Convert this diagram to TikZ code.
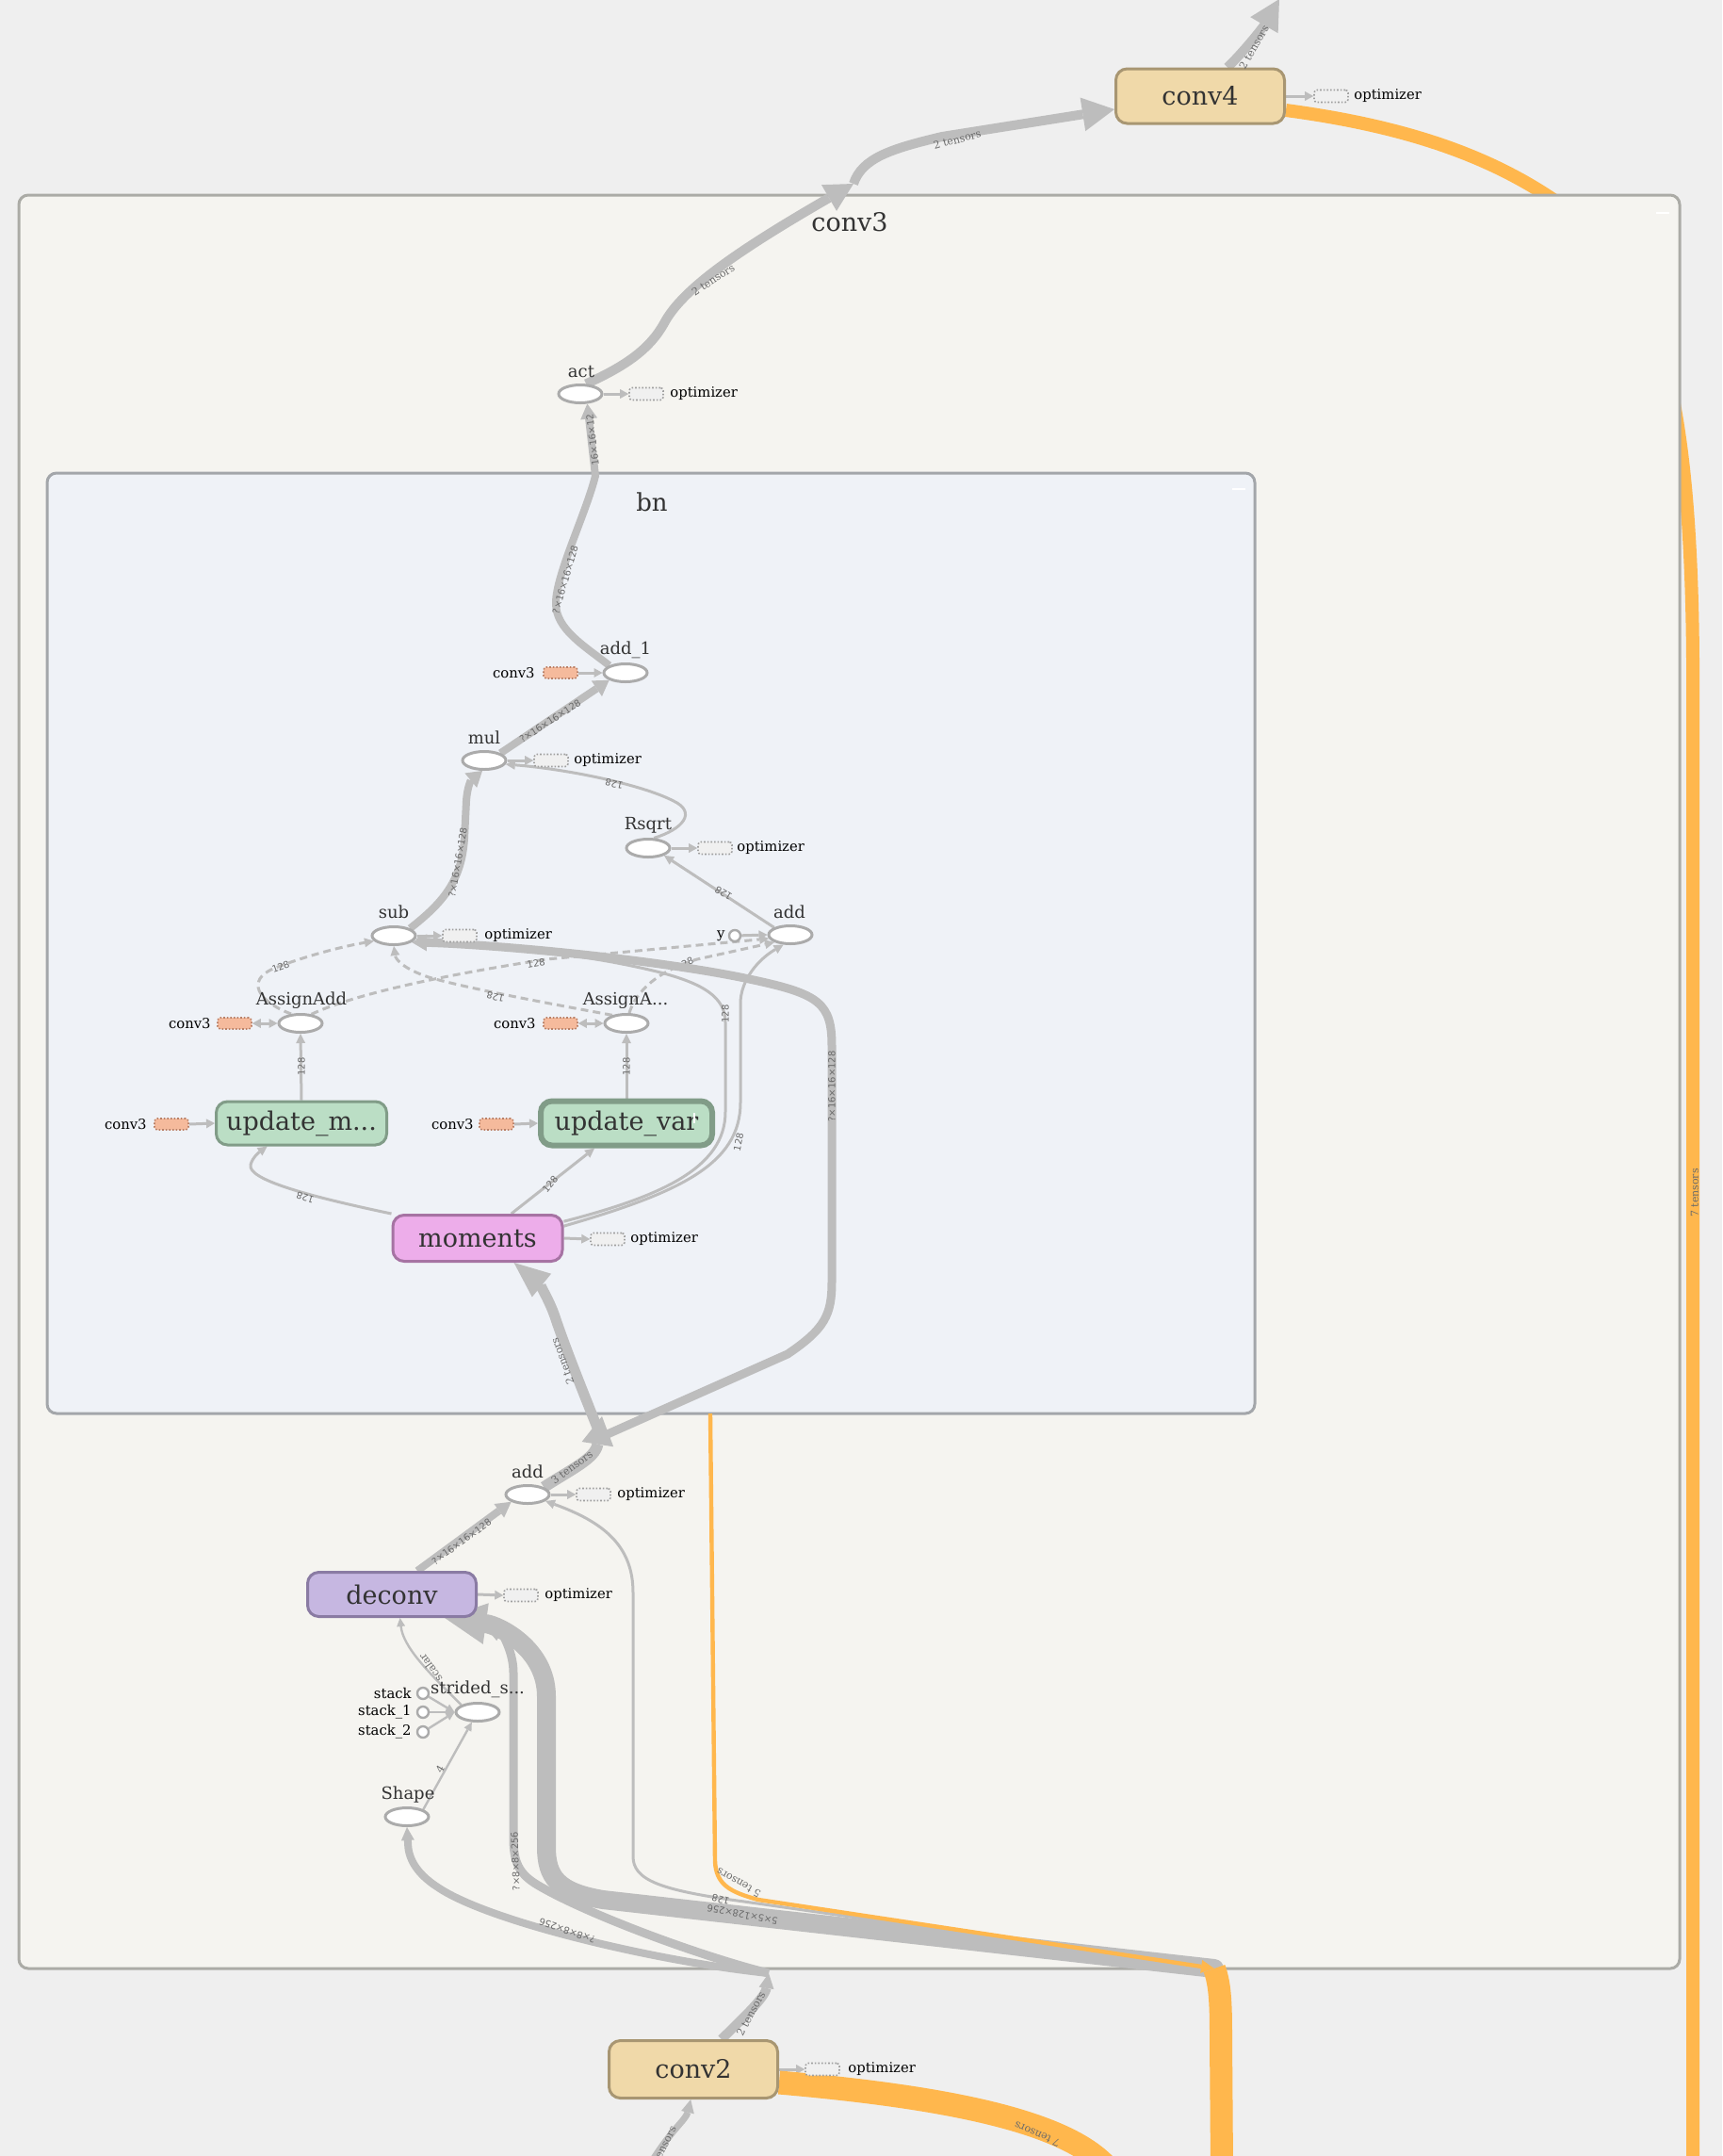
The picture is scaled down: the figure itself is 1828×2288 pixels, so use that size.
\documentclass[tikz,border=0pt]{standalone}
\usepackage{fontspec}
\setmainfont{DejaVu Serif}
\newfontfamily\lblsans{DejaVu Sans}
\usetikzlibrary{arrows.meta,shapes.geometric,calc}
\definecolor{bgc}{HTML}{EFEFEF}
\definecolor{scopec}{HTML}{F5F4F0}
\definecolor{scopeb}{HTML}{ABABA6}
\definecolor{bnc}{HTML}{EFF2F7}
\definecolor{bnb}{HTML}{A3A6AA}
\definecolor{edgec}{HTML}{BDBDBD}
\definecolor{orng}{HTML}{FFB74D}
\definecolor{convc}{HTML}{F0D9A9}
\definecolor{convb}{HTML}{A89672}
\definecolor{updc}{HTML}{BBDEC5}
\definecolor{updb}{HTML}{819C88}
\definecolor{momc}{HTML}{EDADEA}
\definecolor{momb}{HTML}{A673A3}
\definecolor{decc}{HTML}{C6B7E1}
\definecolor{decb}{HTML}{8A7BA3}
\definecolor{salc}{HTML}{F5BA9C}
\definecolor{salb}{HTML}{B98067}
\definecolor{optc}{HTML}{F0F0F0}
\definecolor{optb}{HTML}{A0A0A0}
\definecolor{opb}{HTML}{ABABAB}
\definecolor{txtc}{HTML}{333333}
\definecolor{elbl}{HTML}{6A6A6A}
\pgfdeclarelayer{bgl}
\pgfdeclarelayer{scl}
\pgfdeclarelayer{edl}
\pgfsetlayers{bgl,scl,edl,main}
\begin{document}
\begin{tikzpicture}[x=0.5pt,y=-0.5pt,
  opn/.style={ellipse,draw=opb,fill=white,line width=1.5pt,minimum width=23pt,minimum height=9.5pt,inner sep=0pt},
  metan/.style={rectangle,rounded corners=6pt,line width=1.5pt,text=txtc,font=\fontsize{13.5}{15}\selectfont,inner sep=0pt},
  optbox/.style={rectangle,rounded corners=1.5pt,draw=optb,fill=optc,densely dotted,line width=0.8pt,minimum width=18pt,minimum height=6.5pt,inner sep=0pt},
  salbox/.style={rectangle,rounded corners=1.5pt,draw=salb,fill=salc,densely dotted,line width=0.8pt,minimum width=18pt,minimum height=6pt,inner sep=0pt},
  oplbl/.style={font=\fontsize{9}{10}\selectfont,text=txtc,inner sep=0pt},
  sidel/.style={font=\fontsize{7.4}{8}\selectfont,inner sep=0pt,text=black},
  scttl/.style={font=\fontsize{13.5}{15}\selectfont,text=txtc,inner sep=0pt},
  elab/.style={font=\lblsans\fontsize{5}{6}\selectfont,text=elbl,inner sep=0pt},
  tlab/.style={font=\fontsize{5.5}{6}\selectfont,text=elbl,inner sep=0pt},
  ge/.style={draw=edgec,line width=#1},
  ah/.style 2 args={arrows={-Triangle[length=#1,width=#2,line width=0pt]}},
  ahb/.style={arrows={Triangle[length=4.5pt,width=5pt,line width=0pt]-Triangle[length=4.5pt,width=5pt,line width=0pt]}},
  dsh/.style={dash pattern=on 4pt off 2.5pt},
  stub/.style={circle,draw=opb,fill=white,line width=1.2pt,minimum size=6pt,inner sep=0pt},
]
\useasboundingbox (0,0) rectangle (1828,2288);
% ---------- nodes ----------
\node[metan,fill=convc,draw=convb,minimum width=89.5pt,minimum height=29pt] (conv4) at (1274,102) {conv4};
\node[optbox] (opt4) at (1413,102) {};
\node[sidel,anchor=west] (opt4t) at (1437,102) {optimizer};

\node[scttl] (t3) at (902,236) {conv3};
\node[scttl,font=\fontsize{13}{14}\selectfont] (tbn) at (692,533) {bn};

\node[opn] (act) at (616,418) {};
\node[oplbl] (actl) at (617,394) {act};
\node[optbox] (opta) at (686,418) {};
\node[sidel,anchor=west] (optat) at (711,418) {optimizer};

\node[opn] (add1) at (664,714) {};
\node[oplbl] (add1l) at (664,690) {add\_1};
\node[salbox] (s1) at (595,714) {};
\node[sidel,anchor=east] (s1t) at (568,714) {conv3};

\node[opn] (mul) at (514,807) {};
\node[oplbl] (mull) at (514,783) {mul};
\node[optbox] (optm) at (585,807) {};
\node[sidel,anchor=west] (optmt) at (609,807) {optimizer};

\node[opn] (rsq) at (688,900) {};
\node[oplbl] (rsql) at (688,876) {Rsqrt};
\node[optbox] (optr) at (759,900) {};
\node[sidel,anchor=west] (optrt) at (782,900) {optimizer};

\node[opn] (sub) at (418,993) {};
\node[oplbl] (subl) at (418,968) {sub};
\node[optbox] (opts) at (488,993) {};
\node[sidel,anchor=west] (optst) at (514,993) {optimizer};

\node[opn] (addb) at (839,992) {};
\node[oplbl] (addbl) at (838,968) {add};
\node[stub] (ys) at (780,993) {};
\node[sidel,anchor=east] (yst) at (770,993) {y};

\node[opn] (asa) at (319,1086) {};
\node[oplbl] (asal) at (320,1062) {AssignAdd};
\node[salbox] (s2) at (249,1086) {};
\node[sidel,anchor=east] (s2t) at (224,1086) {conv3};

\node[opn] (asb) at (665,1086) {};
\node[oplbl] (asbl) at (664,1062) {AssignA...};
\node[salbox] (s3) at (595,1086) {};
\node[sidel,anchor=east] (s3t) at (569,1086) {conv3};

\node[metan,fill=updc,draw=updb,minimum width=90.5pt,minimum height=23pt] (updm) at (320,1192) {update\_m...};
\node[salbox] (s4) at (182,1193) {};
\node[sidel,anchor=east] (s4t) at (156,1193) {conv3};

\node[metan,fill=updc,draw=updb,line width=3pt,minimum width=91pt,minimum height=23.5pt] (updv) at (665,1192) {update\_var};
\node[salbox] (s5) at (527,1193) {};
\node[sidel,anchor=east] (s5t) at (503,1193) {conv3};

\node[metan,fill=momc,draw=momb,minimum width=90pt,minimum height=24.5pt] (mom) at (507,1314) {moments};
\node[optbox] (optmo) at (645,1315) {};
\node[sidel,anchor=west] (optmot) at (669,1315) {optimizer};

\node[opn] (addc) at (560,1586) {};
\node[oplbl] (addcl) at (560,1562) {add};
\node[optbox] (optc) at (630,1586) {};
\node[sidel,anchor=west] (optct) at (655,1586) {optimizer};

\node[metan,fill=decc,draw=decb,minimum width=89.5pt,minimum height=23.5pt] (dec) at (416,1692) {deconv};
\node[optbox] (optd) at (553,1693) {};
\node[sidel,anchor=west] (optdt) at (578,1693) {optimizer};

\node[opn] (strd) at (507,1817) {};
\node[oplbl] (strdl) at (507,1793) {strided\_s...};
\node[stub] (st0) at (449,1797) {};
\node[stub] (st1) at (449,1817) {};
\node[stub] (st2) at (449,1838) {};
\node[sidel,anchor=east] (st0t) at (437,1797) {stack};
\node[sidel,anchor=east] (st1t) at (437,1817) {stack\_1};
\node[sidel,anchor=east] (st2t) at (437,1838) {stack\_2};

\node[opn] (shp) at (432,1928) {};
\node[oplbl] (shpl) at (433,1905) {Shape};

\node[metan,fill=convc,draw=convb,minimum width=89.5pt,minimum height=30.5pt] (conv2) at (736,2196) {conv2};
\node[optbox] (opt2) at (873,2196) {};
\node[sidel,anchor=west] (opt2t) at (900,2196) {optimizer};

\coordinate (b1) at (906,195);
\coordinate (c4top) at (1358,-1);
\coordinate (jn) at (638,1525);
\coordinate (bC) at (639,1503);
\coordinate (bB) at (1289,2089);
\coordinate (bA) at (816,2094);
\coordinate (c2in) at (688,2300);
\coordinate (bnbot) at (754,1500);
\coordinate (orR) at (1797,2300);

% ---------- background ----------
\begin{pgfonlayer}{bgl}
\fill[bgc] (0,0) rectangle (1828,2288);
\draw[orng,line width=7pt] ($(conv4.east)+(0,15)$) .. controls (1500,135) and (1600,170) .. (1680,235) .. controls (1760,300) and (1795,420) .. (1797,700) -- (orR);
\end{pgfonlayer}

\begin{pgfonlayer}{scl}
\draw[scopeb,fill=scopec,line width=1.5pt,rounded corners=5pt] (20,207) rectangle (1783,2089);
\draw[white,line width=1pt] (1758,226) -- (1772,226);
\draw[bnb,fill=bnc,line width=1.5pt,rounded corners=5pt] (50,502) rectangle (1332,1500);
\draw[white,line width=1pt] (1308,519) -- (1322,519);
\end{pgfonlayer}

% ---------- edges ----------
\begin{pgfonlayer}{edl}
% outside top
\draw[ge=5pt,ah={15pt}{16pt}] (act.60) .. controls (665,388) and (690,370) .. (705,343) .. controls (725,305) and (790,262) .. (b1);
\draw[ge=5pt,ah={17pt}{18pt}] (b1) .. controls (915,168) and (945,158) .. (1000,145) -- ($(conv4.west)+(0,14)$);
\draw[ge=5pt,ah={16pt}{17pt}] ($(conv4.north)+(29,0)$) .. controls (1320,55) and (1340,30) .. (c4top);
% side arrows
\draw[ge=1.5pt,ah={4.5pt}{5pt}] (conv4.east) -- (opt4.west);
\draw[ge=1.5pt,ah={4.5pt}{5pt}] (act) -- (opta.west);
\draw[ge=1.5pt,ah={4.5pt}{5pt}] (mul) -- (optm.west);
\draw[ge=1.5pt,ah={4.5pt}{5pt}] (rsq) -- (optr.west);
\draw[ge=1.5pt,ah={4.5pt}{5pt}] (sub) -- (opts.west);
\draw[ge=1.5pt,ah={4.5pt}{5pt}] (mom.east) -- (optmo.west);
\draw[ge=1.5pt,ah={4.5pt}{5pt}] (addc) -- (optc.west);
\draw[ge=1.5pt,ah={4.5pt}{5pt}] (dec.east) -- (optd.west);
\draw[ge=1.5pt,ah={4.5pt}{5pt}] (conv2.east) -- (opt2.west);
\draw[ge=1.5pt,ah={4.5pt}{5pt}] (s1.east) -- (add1.west);
\draw[ge=1.5pt,ahb] (s2.east) -- (asa.west);
\draw[ge=1.5pt,ahb] (s3.east) -- (asb.west);
\draw[ge=1.5pt,ah={4.5pt}{5pt}] (s4.east) -- (updm.west);
\draw[ge=1.5pt,ah={4.5pt}{5pt}] (s5.east) -- (updv.west);
\draw[ge=1.5pt,ah={4.5pt}{5pt}] (ys) -- (addb.west);
\draw[ge=1.2pt,ah={4.5pt}{4.5pt}] (st0) -- (strd.west);
\draw[ge=1.2pt,ah={4.5pt}{4.5pt}] (st1) -- (strd.west);
\draw[ge=1.2pt,ah={4.5pt}{4.5pt}] (st2) -- (strd.west);
% bn internals
\draw[ge=4pt,ah={8pt}{9pt}] (add1.north west) .. controls (620,685) and (590,668) .. (590,640) .. controls (590,610) and (622,545) .. (632,505) -- (act.-55);
\draw[ge=4pt,ah={8pt}{10pt}] (mul.north east) -- (add1.south west);
\draw[ge=4pt,ah={8pt}{10pt}] (sub.north east) .. controls (470,958) and (490,935) .. (493,890) -- (495,850) .. controls (496,835) and (500,828) .. (mul.-100);
\draw[ge=1.5pt,ah={5pt}{5pt}] (rsq.60) .. controls (725,880) and (740,862) .. (715,850) .. controls (680,832) and (600,816) .. (mul.-10);
\draw[ge=1.5pt,ah={5pt}{5pt}] (addb.north west) -- (rsq.-25);
\draw[ge=1.5pt,dsh,ah={5pt}{5pt}] (asa.135) .. controls (272,1062) and (262,1040) .. (290,1028) .. controls (320,1016) and (360,1005) .. (sub.195);
\draw[ge=1.5pt,dsh,ah={5pt}{5pt}] (asa.40) .. controls (370,1058) and (450,1038) .. (580,1018) -- (addb.190);
\draw[ge=1.5pt,dsh,ah={5pt}{5pt}] (asb.150) .. controls (600,1068) and (500,1050) .. (455,1037) .. controls (428,1028) and (420,1018) .. (sub.south);
\draw[ge=1.5pt,dsh,ah={5pt}{5pt}] (asb.75) .. controls (676,1050) and (700,1030) .. (740,1018) -- (addb.205);
\node[elab,rotate=25] (l128h) at (727,1023) {128};
\draw[ge=1.5pt,ah={5pt}{5pt}] (updm.north) -- (asa.south);
\draw[ge=1.5pt,ah={5pt}{5pt}] (updv.north) -- (asb.south);
\draw[ge=1.5pt,ah={5pt}{5pt}] (mom.north west) .. controls (330,1270) and (262,1252) .. (266,1236) .. controls (268,1228) and (276,1222) .. (updm.214);
\draw[ge=1.5pt,ah={5pt}{5pt}] (mom.36) -- (updv.218);
\draw[ge=1.5pt,ah={5pt}{5pt}] (mom.11) .. controls (700,1270) and (770,1240) .. (770,1180) -- (770,1085) .. controls (770,1050) and (730,1036) .. (650,1021) .. controls (560,1005) and (480,998) .. (sub.-8);
\draw[ge=1.5pt,ah={5pt}{5pt}] (mom.8) .. controls (720,1266) and (786,1236) .. (786,1170) -- (786,1065) .. controls (786,1040) and (805,1018) .. (addb.235);
% into bn
\draw[ge=6pt,ah={15pt}{17pt}] (addc.north east) .. controls (605,1560) and (632,1548) .. (bC);
\draw[ge=5.5pt,ah={19pt}{16pt}] (jn) .. controls (620,1480) and (600,1430) .. (590,1400) .. controls (583,1378) and (570,1360) .. (mom.-34);
\draw[ge=4.5pt,ah={8pt}{9pt}] (jn) -- (836,1437) .. controls (876,1410) and (883,1395) .. (883,1360) -- (883,1110) .. controls (883,1065) and (870,1055) .. (800,1040) .. controls (700,1018) and (520,1002) .. (sub.-20);
% conv3 lower part
\draw[ge=4pt,ah={8pt}{9pt}] ($(dec.north)+(27,0)$) -- (addc.south west);
\draw[ge=1.5pt,ah={5pt}{5pt}] (bB) -- (790,2018) .. controls (700,2006) and (672,1995) .. (672,1970) -- (672,1690) .. controls (672,1640) and (640,1615) .. (addc.-20);
\draw[ge=4pt,ah={7pt}{7pt}] (bA) .. controls (700,2082) and (520,2040) .. (465,2003) .. controls (440,1987) and (433,1970) .. (433,1955) -- (shp.south);
\draw[ge=4.5pt,ah={15pt}{11pt}] (bA) .. controls (740,2075) and (620,2030) .. (570,2000) .. controls (550,1988) and (545,1975) .. (545,1950) -- (545,1775) .. controls (545,1750) and (530,1730) .. (dec.-15);
\draw[ge=10pt,line cap=round,ah={22pt}{22pt}] (bB) -- (640,2016) .. controls (592,2008) and (580,1992) .. (580,1960) -- (580,1800) .. controls (580,1750) and (530,1725) .. (dec.-24);
\draw[ge=1.2pt,ah={4.5pt}{4.5pt}] (shp.north east) -- (strd.-120);
\draw[ge=1.2pt,ah={4.5pt}{4.5pt}] (strd.north west) .. controls (455,1775) and (428,1748) .. (dec.-71);
% orange
\draw[orng,line width=2.2pt,arrows={-Triangle[length=7pt,width=7pt,line width=0pt]}] (bnbot) -- (759,1975) .. controls (760,2000) and (775,2008) .. (805,2016) -- (bB);
\draw[orng,line width=12pt] (bB) .. controls (1295,2105) and (1296,2125) .. (1296,2160) -- (1297,2300);
\draw[orng,line width=12.5pt] ($(conv2.east)+(0,14)$) .. controls (1000,2225) and (1130,2250) .. (1175,2300);
% conv2 edges
\draw[ge=5pt,ah={8pt}{8pt}] ($(conv2.north)+(30,0)$) .. controls (790,2140) and (812,2120) .. (bA);
\draw[ge=3.5pt,ah={7pt}{7pt}] (c2in) .. controls (712,2260) and (728,2250) .. (conv2.-95);
\end{pgfonlayer}

% white mark on update_var
\draw[white,line width=0.8pt] (737,1181) -- (737,1192);

% ---------- edge labels ----------
\node[tlab,rotate=60] (la1) at (1331,50) {2 tensors};
\node[tlab,rotate=15] (la2) at (1016,148) {2 tensors};
\node[tlab,rotate=33] (la3) at (757,297) {2 tensors};
\node[elab,rotate=97] (la4) at (629,467) {16×16×12};
\node[elab,rotate=74] (la5) at (600,615) {?×16×16×128};
\node[elab,rotate=33] (la6) at (584,765) {?×16×16×128};
\node[elab,rotate=80] (la7) at (486,915) {?×16×16×128};
\node[elab,rotate=167] (la8) at (652,832) {128};
\node[elab,rotate=148] (la9) at (768,948) {128};
\node[elab,rotate=20] (la10) at (298,1026) {128};
\node[elab,rotate=10] (la11) at (569,1022) {128};
\node[elab,rotate=166] (la12) at (526,1058) {128};
\node[elab,rotate=90] (la13) at (320,1132) {128};
\node[elab,rotate=90] (la14) at (665,1132) {128};
\node[elab,rotate=162] (la15) at (324,1271) {128};
\node[elab,rotate=50] (la16) at (584,1257) {128};
\node[elab,rotate=90] (la17) at (770,1076) {128};
\node[elab,rotate=78] (la18) at (784,1212) {128};
\node[elab,rotate=90] (la19) at (883,1153) {?×16×16×128};
\node[tlab,rotate=110] (la20) at (597,1445) {2 tensors};
\node[tlab,rotate=37] (la21) at (607,1557) {3 tensors};
\node[elab,rotate=36] (la22) at (490,1636) {?×16×16×128};
\node[tlab,rotate=125] (la23) at (457,1770) {scalar};
\node[tlab,rotate=60] (la24) at (467,1877) {4};
\node[elab,rotate=92] (la25) at (547,1975) {?×8×8×256};
\node[elab,rotate=161] (la26) at (602,2049) {?×8×8×256};
\node[elab,rotate=165] (la27) at (765,2016) {128};
\node[elab,rotate=169] (la28) at (788,2032) {5×5×128×256};
\node[tlab,rotate=151] (la29) at (784,1998) {5 tensors};
\node[tlab,rotate=62] (la30) at (797,2137) {2 tensors};
\node[tlab,rotate=63] (la31) at (703,2280) {2 tensors};
\node[tlab,rotate=156] (la32) at (1101,2265) {7 tensors};
\node[tlab,rotate=90] (la33) at (1799,1266) {7 tensors};
\end{tikzpicture}
\end{document}
